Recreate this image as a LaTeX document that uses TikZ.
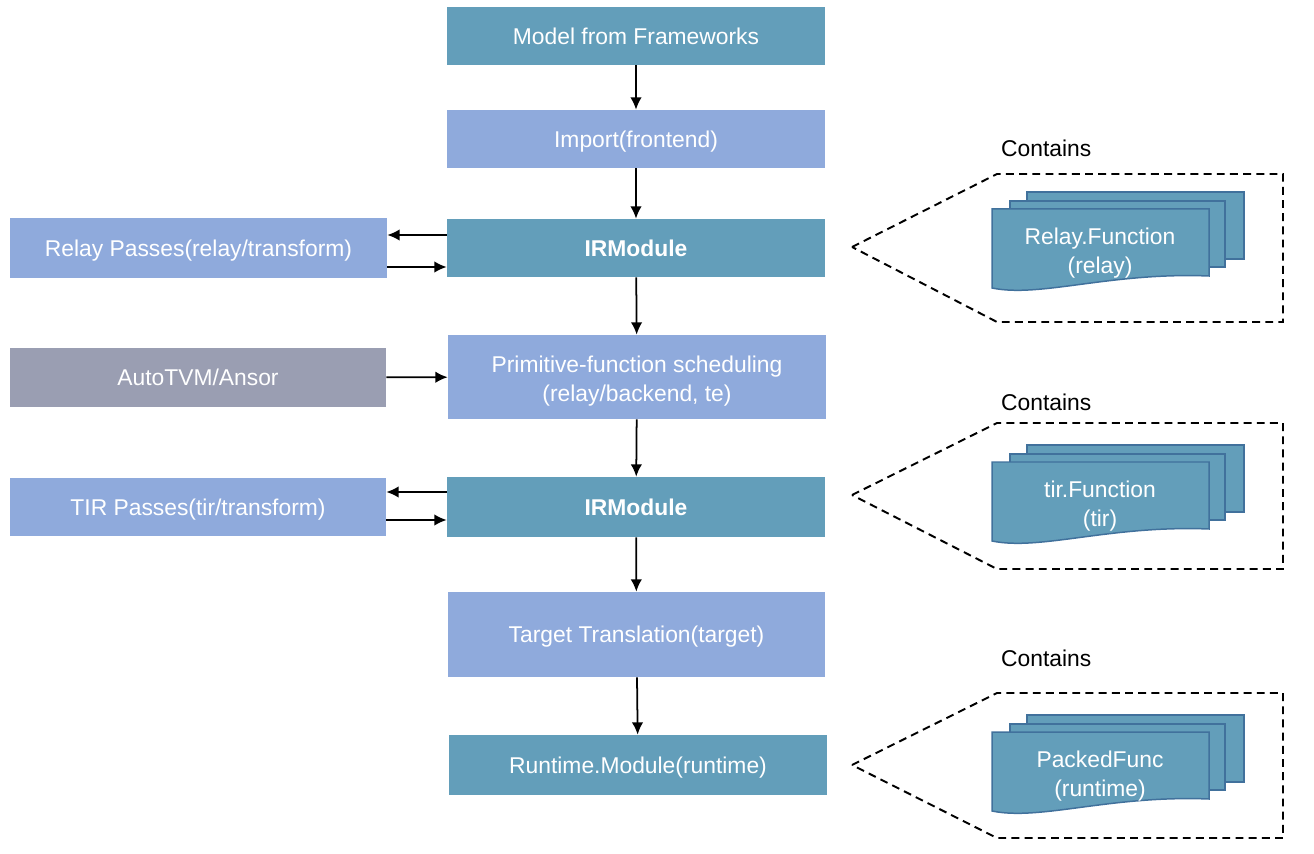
\documentclass[tikz,border=0pt]{standalone}
\usepackage{fontspec}
\setmainfont{Liberation Sans}
\usetikzlibrary{calc,arrows.meta}

\definecolor{tealbox}{RGB}{99,158,186}
\definecolor{bluebox}{RGB}{143,170,220}
\definecolor{greybox}{RGB}{154,158,178}
\definecolor{docedge}{RGB}{65,113,156}

\newcommand{\boxstrut}{\rule[-2.8pt]{0pt}{14.9pt}}
\newcommand{\twostrut}{\rule[-2.8pt]{0pt}{16.8pt}}

\begin{document}
\begin{tikzpicture}[x=0.02cm,y=-0.02cm,
  every node/.style={font=\fontsize{13}{16.5}\selectfont},
  box/.style={minimum width=7.56cm,minimum height=1.16cm,inner sep=0pt,text=white,align=center,
    execute at begin node=\boxstrut},
  dark/.style={box,fill=tealbox},
  light/.style={box,fill=bluebox},
  arr/.style={-{Latex[length=7pt,width=6.5pt]},line width=1pt},
  callout/.style={dash pattern=on 4.5pt off 3pt,line width=1.1pt},
  doc/.style={draw=docedge,fill=tealbox,line width=0.85pt}]

  \useasboundingbox (0,0) rectangle (1314,854);

  \node[dark] (model) at (636,36) {Model from Frameworks};
  \node[light] (import) at (636,139) {Import(frontend)};
  \node[dark] (irrelay) at (636,248) {\textbf{IRModule}};
  \node[light,minimum height=1.68cm] (sched) at (637,377) {\twostrut Primitive-function scheduling\\(relay/backend, te)};
  \node[dark,minimum height=1.2cm] (irtir) at (636,507) {\textbf{IRModule}};
  \node[light,minimum height=1.7cm] (target) at (636.5,634.5) {Target Translation(target)};
  \node[dark,minimum height=1.2cm] (runtime) at (638,765) {Runtime.Module(runtime)};

  \node[light,minimum width=7.54cm,minimum height=1.2cm] (relaypass) at (198.5,248) {Relay Passes(relay/transform)};
  \node[box,fill=greybox,minimum width=7.52cm,minimum height=1.18cm] (autotvm) at (198,377.5) {AutoTVM/Ansor};
  \node[light,minimum width=7.52cm] (tirpass) at (198,507) {TIR Passes(tir/transform)};

  \foreach \a/\b in {model/import,import/irrelay,irrelay/sched,sched/irtir,irtir/target,target/runtime}
    \draw[arr] (\a) -- (\b);

  \draw[arr] ($(irrelay.west)+(0,-13)$) -- ($(relaypass.east)+(0,-13)$);
  \draw[arr] ($(relaypass.east)+(0,19)$) -- ($(irrelay.west)+(0,19)$);
  \draw[arr] (autotvm) -- (sched);
  \draw[arr] ($(irtir.west)+(0,-15)$) -- ($(tirpass.east)+(0,-15)$);
  \draw[arr] ($(tirpass.east)+(0,13)$) -- ($(irtir.west)+(0,13)$);

  \foreach \ty/\hy/\ly/\dy/\cy/\txt in {247/174/322/209/148/{Relay.Function\\(relay)},
      495/423/569/462/402/{tir.Function\\(tir)},
      765/693/838/732/658/{PackedFunc\\(runtime)}} {
    \node[anchor=west] (contains\ty) at (995,\cy) {Contains};
    \draw[callout] (852,\ty) -- (997,\hy) -- (1283,\hy) -- (1283,\ly) -- (997,\ly) -- cycle;
    \draw[doc] (1027,\dy-17) rectangle (1244,\dy+50);
    \draw[doc] (1010,\dy-8) rectangle (1225,\dy+58);
    \draw[doc] (992,\dy) -- (1209,\dy) -- (1209,\dy+67)
      .. controls (1110,\dy+63) and (1040,\dy+89) .. (992,\dy+79) -- cycle;
    \node[text=white,align=center] (func\ty) at (1100,\dy+44) {\txt};
  }

\end{tikzpicture}
\end{document}
